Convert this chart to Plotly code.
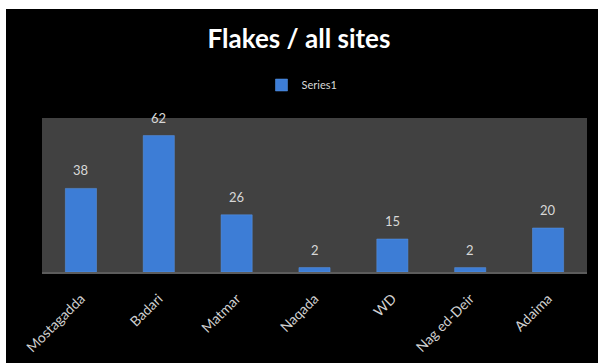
import plotly.graph_objects as go

categories = ["Mostagadda", "Badari", "Matmar", "Naqada", "WD", "Nag ed-Deir", "Adaima"]
values = [38, 62, 26, 2, 15, 2, 20]
series_name = "Series1"
title_text = "Flakes / all sites"

W, H = 598, 363
L, R, T, B = 42, 11, 118, 91
pw, ph = W - L - R, H - T - B

def px_x(p):
    return (p - L) / pw

def px_y(p):
    return (H - B - p) / ph

fig = go.Figure()
fig.add_trace(go.Bar(
    x=categories, y=values, name=series_name,
    marker=dict(color="#3D7DD6", line=dict(color="#5A97E6", width=0.5)),
    width=0.4,
    cliponaxis=False,
))

annotations = [
    dict(x=c, y=v, xref="x", yref="y", text=str(v), showarrow=False,
         yanchor="bottom", yshift=8,
         font=dict(family="Lato", size=13, color="#d8d8d8"))
    for c, v in zip(categories, values)
]

fig.update_layout(
    width=W, height=H,
    margin=dict(l=L, r=R, t=T, b=B, autoexpand=False),
    paper_bgcolor="black",
    plot_bgcolor="#414141",
    showlegend=True,
    title=dict(text=title_text, x=0.5, xref="container", xanchor="center",
               y=1 - 39 / H, yref="container", yanchor="middle",
               font=dict(family="Lato", size=26, color="white", weight="bold")),
    legend=dict(orientation="h", xref="container", yref="container",
                x=0.505, xanchor="center", y=1 - 85 / H, yanchor="middle",
                font=dict(family="Lato", size=11, color="#d8d8d8"),
                bgcolor="rgba(0,0,0,0)", itemwidth=30),
    annotations=annotations,
    bargap=0.6,
    xaxis=dict(showline=True, linecolor="#5c5c5c", linewidth=2,
               ticks="outside", ticklen=11, tickcolor="rgba(0,0,0,0)",
               tickangle=-45, showgrid=False, automargin=False,
               tickfont=dict(family="Lato", size=14, color="#d0d0d0")),
    yaxis=dict(range=[0, 70], showticklabels=False, showgrid=False,
               zeroline=False, showline=False, automargin=False),
    shapes=[
        dict(type="rect", xref="paper", yref="paper", layer="above",
             x0=px_x(-5), x1=px_x(W + 5), y0=px_y(9), y1=px_y(-5),
             fillcolor="white", line=dict(width=0)),
        dict(type="rect", xref="paper", yref="paper", layer="above",
             x0=px_x(-5), x1=px_x(6), y0=px_y(H + 5), y1=px_y(-5),
             fillcolor="white", line=dict(width=0)),
    ],
)

fig.write_html("out.html")
